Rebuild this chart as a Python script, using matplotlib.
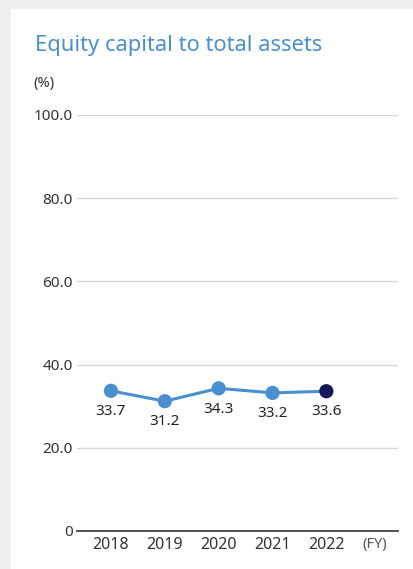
import matplotlib.pyplot as plt
from matplotlib.patches import Rectangle

plt.rcParams['font.family'] = ['Noto Sans', 'DejaVu Sans']

years = ['2018', '2019', '2020', '2021', '2022']
ratio = [33.7, 31.2, 34.3, 33.2, 33.6]
yticks = [0, 20, 40, 60, 80, 100]
ytick_labels = ['0', '20.0', '40.0', '60.0', '80.0', '100.0']

W, H = 414, 569
fig = plt.figure(figsize=(W / 100, H / 100), dpi=100)
fig.patch.set_facecolor('#efefef')
fig.patches.append(Rectangle((11 / W, 0), 1, (H - 9) / H, transform=fig.transFigure,
                             facecolor='white', edgecolor='none', zorder=-10))

ax = fig.add_axes([77 / W, (H - 531) / H, (398 - 77) / W, (531 - 115) / H])
ax.set_facecolor('none')

x = list(range(len(years)))
line_blue = '#4a90d0'
ax.plot(x, ratio, color=line_blue, lw=2.2, zorder=3)
ax.scatter(x[:-1], ratio[:-1], s=105, color=line_blue, zorder=4, edgecolors='none')
ax.scatter(x[-1:], ratio[-1:], s=105, color='#15175a', zorder=4, edgecolors='none')
for xi, v in zip(x, ratio):
    ax.annotate(f'{v:.1f}', (xi, v), xytext=(0, -9.5), textcoords='offset points',
                ha='center', va='top', fontsize=11, color='#222222')

ax.set_xlim(-0.63, 5.33)
ax.set_ylim(0, 100)
ax.set_yticks(yticks)
ax.set_yticklabels(ytick_labels)
ax.set_xticks(x)
ax.set_xticklabels(years)
ax.tick_params(axis='both', length=0, labelsize=11.5, colors='#333333')
ax.tick_params(axis='y', pad=3, labelsize=11)
ax.tick_params(axis='x', pad=4)
ax.grid(axis='y', color='#d9d9d9', lw=1)
ax.set_axisbelow(True)
for s in ['top', 'right', 'left']:
    ax.spines[s].set_visible(False)
ax.spines['bottom'].set_color('#333333')
ax.spines['bottom'].set_linewidth(1.2)

ax.annotate('(FY)', xy=(4.9, 0), xycoords=('data', 'axes fraction'), xytext=(0, -4.5),
            textcoords='offset points', ha='center', va='top', fontsize=10.5, color='#555555')

fig.text(35 / W, 1 - 45 / H, 'Equity capital to total assets', fontsize=15.8,
         color='#4a90d0', va='center', ha='left')
fig.text(33 / W, 1 - 84 / H, '(%)', fontsize=10.5, color='#333333', va='center', ha='left')

fig.savefig('out.png', dpi=100, facecolor=fig.get_facecolor())
